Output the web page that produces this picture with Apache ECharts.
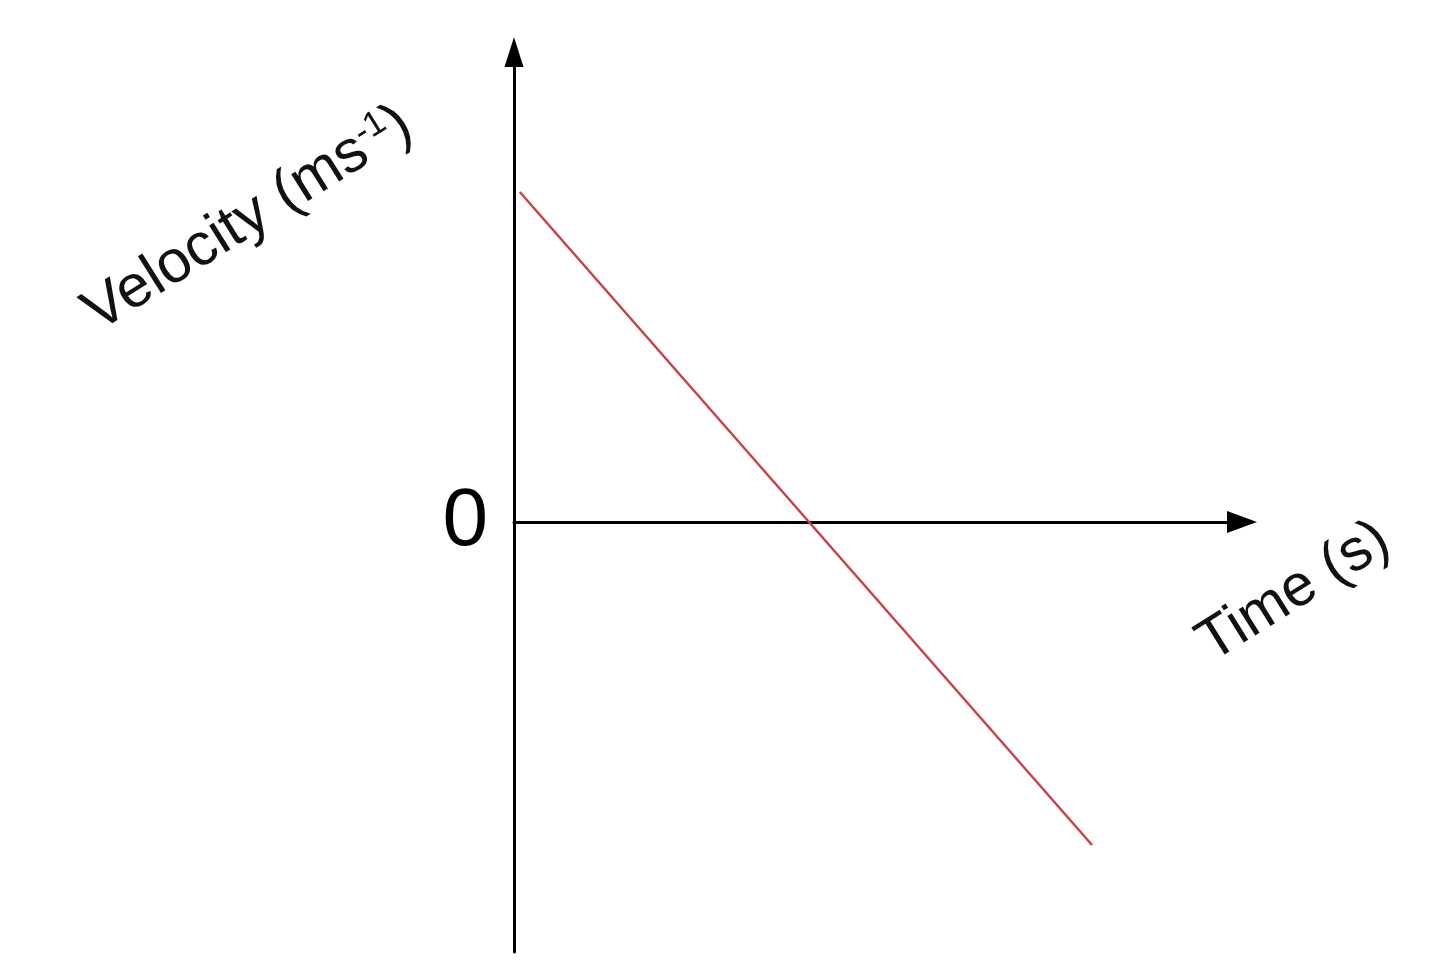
<!DOCTYPE html>
<html>
<head>
<meta charset="utf-8">
<script src="https://cdn.jsdelivr.net/npm/echarts@6/dist/echarts.min.js"></script>
<style>
html,body{margin:0;padding:0;background:#fff;}
#chart{width:1440px;height:973px;}
</style>
</head>
<body>
<div id="chart"></div>
<script>
// Data: time (arbitrary units) and velocity (arbitrary units)
const timeValues = [0.08, 7.94];
const velocityValues = [33, -32.3];
const yTickLabels = [0];
const xAxisTitle = 'Time (s)';
const yAxisTitleMain = 'Velocity (ms';
const yAxisTitleSup = '-1';

const lineData = timeValues.map((t, i) => [t, velocityValues[i]]);

const chart = echarts.init(document.getElementById('chart'));
const font = 'Liberation Sans, Arial, sans-serif';
chart.setOption({
  backgroundColor: '#ffffff',
  animation: false,
  grid: { left: 514, right: 198, top: 52, bottom: 21, containLabel: false, outerBoundsMode: 'none' },
  xAxis: {
    type: 'value', min: 0, max: 10,
    axisLine: { show: true, onZero: true, symbol: ['none', 'triangle'], symbolSize: [22, 30],
      lineStyle: { color: '#000', width: 3 } },
    axisTick: { show: false }, axisLabel: { show: false }, splitLine: { show: false }
  },
  yAxis: {
    type: 'value', min: -43, max: 47,
    axisLine: { show: true, onZero: true, symbol: ['none', 'triangle'], symbolSize: [19, 30],
      lineStyle: { color: '#000', width: 3 } },
    axisTick: { show: false },
    axisLabel: { show: true, customValues: yTickLabels, fontSize: 82, color: '#000',
      fontFamily: font, margin: 26 },
    splitLine: { show: false }
  },
  series: [{
    type: 'line', data: lineData, showSymbol: false, symbol: 'none',
    lineStyle: { color: '#c8424a', width: 2.5 }, z: 5
  }],
  graphic: [
    {
      type: 'text', x: 248, y: 219, rotation: 32 * Math.PI / 180,
      style: {
        text: '{m|' + yAxisTitleMain + '}{s|' + yAxisTitleSup + '}{m|)}',
        align: 'center', verticalAlign: 'middle',
        rich: {
          m: { fontSize: 60, fontFamily: font, fill: '#111', verticalAlign: 'bottom' },
          s: { fontSize: 35, fontFamily: font, fill: '#111', verticalAlign: 'top' }
        }
      }
    },
    {
      type: 'text', x: 1294, y: 592, rotation: 32 * Math.PI / 180,
      style: { text: xAxisTitle, fontSize: 59, fontFamily: font, fill: '#111',
        align: 'center', verticalAlign: 'middle' }
    }
  ]
});
</script>
</body>
</html>
